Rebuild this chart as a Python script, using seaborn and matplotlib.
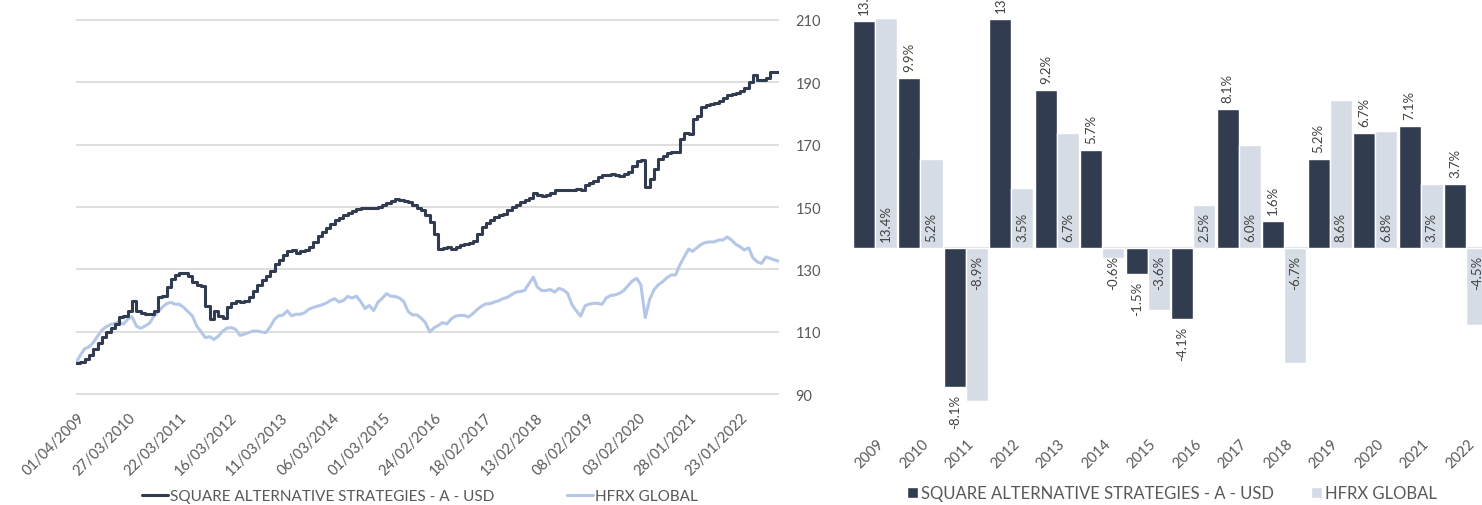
import numpy as np
import pandas as pd
import matplotlib
matplotlib.use("Agg")
import matplotlib.pyplot as plt
import matplotlib.dates as mdates
from matplotlib.lines import Line2D
from matplotlib.patches import Patch
from matplotlib.transforms import ScaledTranslation
import seaborn as sns

# ---------------- data ----------------
series_names = ["SQUARE ALTERNATIVE STRATEGIES - A - USD", "HFRX GLOBAL"]
start_date = "2009-04-01"

sas_values = [
    100.0, 100.2, 101.1, 102.4, 104.3, 106.5, 108.4, 109.9, 111.3, 112.4, 114.7, 115.1,
    116.7, 119.9, 116.7, 115.9, 115.8, 115.6, 116.5, 121.0, 121.6, 124.2, 126.9, 128.2,
    128.7, 128.7, 128.0, 125.8, 125.0, 124.7, 118.3, 114.0, 116.7, 115.1, 114.5, 117.8,
    119.2, 119.7, 119.4, 119.9, 121.0, 123.1, 125.0, 126.6, 128.0, 129.6, 131.7, 133.1,
    134.6, 136.0, 136.3, 135.3, 136.0, 136.3, 137.1, 138.7, 140.7, 142.0, 143.3, 144.5,
    145.7, 146.5, 147.3, 148.1, 148.8, 149.3, 149.6, 149.7, 149.7, 149.7, 150.0, 150.5,
    151.3, 152.0, 152.7, 152.3, 152.0, 151.6, 150.5, 149.7, 148.9, 147.5, 145.2, 141.4,
    136.4, 136.8, 137.3, 136.6, 137.2, 137.7, 138.1, 138.5, 139.0, 141.4, 143.6, 145.0,
    145.9, 146.8, 147.3, 147.9, 149.1, 150.0, 150.7, 151.6, 152.3, 153.0, 154.6, 153.7,
    153.4, 154.0, 154.5, 155.4, 155.4, 155.6, 155.6, 155.4, 155.9, 155.6, 157.0, 157.7,
    158.3, 159.6, 160.2, 160.4, 160.5, 160.2, 159.9, 160.7, 161.2, 163.3, 164.6, 165.0,
    156.4, 159.1, 162.3, 165.5, 166.5, 167.2, 167.5, 167.7, 171.9, 173.8, 173.5, 178.3,
    179.1, 182.0, 182.8, 182.9, 183.3, 184.1, 184.9, 185.9, 186.3, 186.5, 187.2, 188.1,
    190.2, 192.3, 190.9, 190.9, 191.3, 193.2, 193.2, 193.2,
]

hfrx_values = [
    100.0, 102.4, 104.5, 105.1, 106.5, 108.6, 110.5, 111.6, 112.3, 112.7, 113.1, 112.4,
    114.0, 114.8, 111.8, 111.1, 111.8, 112.7, 114.8, 116.4, 117.8, 119.0, 119.4, 118.8,
    118.8, 117.8, 116.4, 115.1, 111.8, 109.9, 108.1, 108.4, 107.5, 108.6, 110.2, 111.1,
    111.3, 110.8, 108.8, 109.2, 109.7, 110.2, 110.2, 109.9, 109.7, 111.6, 114.0, 115.1,
    115.3, 116.7, 115.1, 115.6, 115.6, 116.1, 117.2, 117.8, 118.2, 118.6, 119.2, 120.0,
    120.6, 119.5, 120.0, 121.3, 120.8, 121.4, 119.7, 117.4, 118.4, 116.8, 119.5, 120.6,
    122.2, 121.4, 121.3, 120.8, 119.7, 116.5, 115.4, 115.4, 114.4, 112.9, 109.9, 111.2,
    112.0, 112.9, 112.5, 114.1, 115.0, 115.2, 115.2, 114.7, 115.8, 117.1, 118.2, 118.9,
    119.0, 119.5, 119.9, 120.6, 121.0, 121.9, 122.7, 122.9, 123.2, 125.4, 127.5, 124.3,
    123.2, 123.2, 123.5, 122.7, 123.9, 123.4, 122.3, 118.6, 116.7, 115.0, 118.3, 118.8,
    119.1, 119.1, 118.8, 120.9, 121.6, 121.8, 122.3, 123.2, 124.7, 126.3, 127.1, 125.0,
    114.5, 120.2, 123.4, 125.0, 126.0, 127.3, 128.2, 128.2, 131.4, 134.0, 136.5, 135.8,
    136.9, 138.0, 138.6, 138.8, 138.8, 139.4, 139.4, 140.4, 139.4, 138.0, 137.2, 136.2,
    136.9, 133.7, 132.4, 131.9, 134.0, 133.5, 133.0, 132.6,
]

years = ["2009", "2010", "2011", "2012", "2013", "2014", "2015",
         "2016", "2017", "2018", "2019", "2020", "2021", "2022"]
sas_annual = [13.2, 9.9, -8.1, 13.3, 9.2, 5.7, -1.5, -4.1, 8.1, 1.6, 5.2, 6.7, 7.1, 3.7]
hfrx_annual = [13.4, 5.2, -8.9, 3.5, 6.7, -0.6, -3.6, 2.5, 6.0, -6.7, 8.6, 6.8, 3.7, -4.5]

yticks_left = [90, 110, 130, 150, 170, 190, 210]

# ---------------- style ----------------
DARK = "#323C50"
LIGHT_LINE = "#B4C7E7"
LIGHT_BAR = "#D6DCE5"
TXT = "#595959"
GRID = "#D9D9D9"

sns.set_style("white")
plt.rcParams["font.family"] = ["Lato", "DejaVu Sans"]
plt.rcParams["text.color"] = TXT

W, H = 1482, 506
fig = plt.figure(figsize=(W / 100, H / 100), dpi=100)

def px_axes(left, top, right, bottom):
    return fig.add_axes([left / W, 1 - bottom / H, (right - left) / W, (bottom - top) / H])

# ---------------- left: line chart ----------------
dates = pd.date_range(start_date, periods=len(sas_values), freq="MS")
df_line = pd.DataFrame({"date": dates, "sas": sas_values, "hfrx": hfrx_values})

axl = px_axes(76, 5.4, 779, 410.6)
sns.lineplot(data=df_line, x="date", y="hfrx", ax=axl, color=LIGHT_LINE, lw=2.2)
sns.lineplot(data=df_line, x="date", y="sas", ax=axl, color=DARK, lw=2.2,
             drawstyle="steps-post")
axl.set_xlim(dates[0], dates[-1])
axl.set_ylim(85, 215)
axl.set_yticks(yticks_left)
axl.yaxis.tick_right()
axl.grid(axis="y", color=GRID, lw=1.2)
axl.grid(axis="x", visible=False)
for s in axl.spines.values():
    s.set_visible(False)
axl.set_xlabel("")
axl.set_ylabel("")
xt = pd.date_range(start_date, "2022-06-01", freq="360D")
axl.set_xticks(xt)
axl.xaxis.set_major_formatter(mdates.DateFormatter("%d/%m/%Y"))
axl.tick_params(axis="y", length=0, pad=12, labelsize=10.5, labelcolor=TXT)
axl.tick_params(axis="x", length=0, pad=4, labelsize=10.5, labelcolor=TXT)
off = ScaledTranslation(6 / 100, 0, fig.dpi_scale_trans)
for lab in axl.get_xticklabels():
    lab.set_rotation(45)
    lab.set_ha("right")
    lab.set_va("center")
    lab.set_rotation_mode("anchor")
    lab.set_transform(lab.get_transform() + off)

handles_l = [Line2D([], [], color=DARK, lw=2.2), Line2D([], [], color=LIGHT_LINE, lw=2.2)]
axl.legend(handles_l, series_names, loc="center", bbox_to_anchor=(420 / W, 1 - 497 / H),
           bbox_transform=fig.transFigure, ncol=2, frameon=False, fontsize=11,
           handlelength=1.7, handletextpad=0.15, columnspacing=4.7, labelcolor=TXT)

# ---------------- right: bar chart ----------------
df_bar = pd.DataFrame({
    "year": years * 2,
    "series": [series_names[0]] * len(years) + [series_names[1]] * len(years),
    "value": sas_annual + hfrx_annual,
})
axr = px_axes(845, 0, 1482, 420)
axr.axhline(0, xmin=8 / 637, xmax=1, color=GRID, lw=1.2, zorder=0.5)
sns.barplot(data=df_bar, x="year", y="value", hue="series", order=years,
            hue_order=series_names, palette=[DARK, LIGHT_BAR], saturation=1,
            width=0.97, gap=0, legend=False, ax=axr, zorder=2)
axr.set_xlim(-0.66, 13.35)
axr.set_ylim(-9.94, 14.48)
for s in axr.spines.values():
    s.set_visible(False)
axr.set_yticks([])
axr.set_xlabel("")
axr.set_ylabel("")
axr.tick_params(axis="x", length=0, pad=16, labelsize=10.5, labelcolor=TXT)
for lab in axr.get_xticklabels():
    lab.set_rotation(45)
    lab.set_ha("right")
    lab.set_va("center")
    lab.set_rotation_mode("anchor")
    lab.set_transform(lab.get_transform() + off)

LBL = "#404040"
cont_dark, cont_light = axr.containers[0], axr.containers[1]
for bar, v in zip(cont_dark, sas_annual):
    x = bar.get_x() + bar.get_width() / 2
    axr.annotate(f"{v:.1f}%", xy=(x, v), xytext=(0, 5 if v >= 0 else -5),
                 textcoords="offset points", rotation=90, ha="center",
                 va="bottom" if v >= 0 else "top", fontsize=9.5, color=LBL,
                 annotation_clip=False)
for bar, v in zip(cont_light, hfrx_annual):
    x = bar.get_x() + bar.get_width() / 2
    axr.annotate(f"{v:.1f}%", xy=(x, 0), xytext=(0, 5 if v >= 0 else -5),
                 textcoords="offset points", rotation=90, ha="center",
                 va="bottom" if v >= 0 else "top", fontsize=9.5, color=LBL,
                 annotation_clip=False, zorder=3)

handles_r = [Patch(facecolor=DARK), Patch(facecolor=LIGHT_BAR)]
axr.legend(handles_r, series_names, loc="center", bbox_to_anchor=(1172 / W, 1 - 494 / H),
           bbox_transform=fig.transFigure, ncol=2, frameon=False, fontsize=12,
           handlelength=0.65, handleheight=0.65, handletextpad=0.2, columnspacing=2.2,
           labelcolor=TXT)

fig.savefig("out.png", dpi=100, facecolor="white")
